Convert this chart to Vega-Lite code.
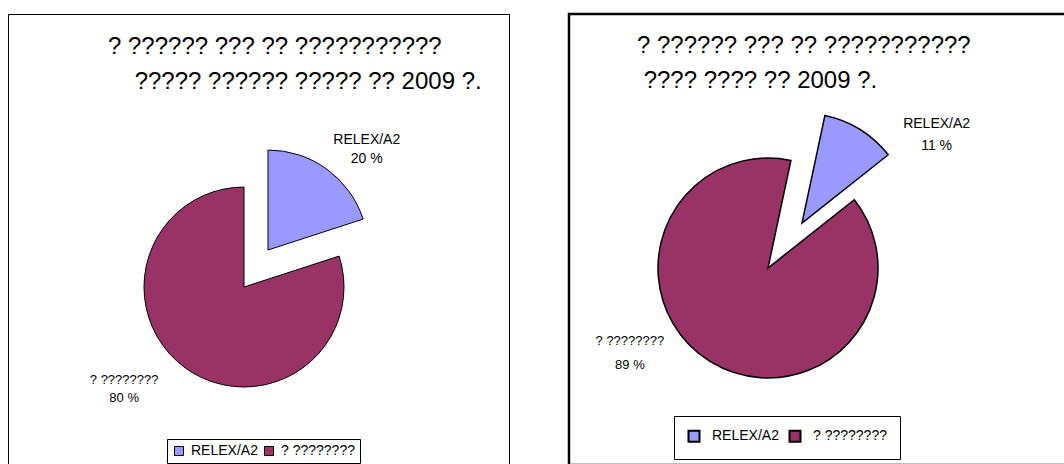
{
  "$schema": "https://vega.github.io/schema/vega-lite/v6.json",
  "padding": {"left": 7, "top": 12, "right": 0, "bottom": 0},
  "spacing": 57,
  "background": "white",
  "config": {
    "font": "Liberation Sans",
    "view": {"stroke": "black"},
    "text": {"font": "Liberation Sans", "color": "black"}
  },
  "resolve": {"scale": {"color": "independent", "theta": "independent"}, "legend": {"color": "independent"}},
  "hconcat": [
    {
      "width": 501,
      "height": 460,
      "view": {"stroke": "black", "strokeWidth": 1, "fill": "white"},
      "title": {
        "text": ["? ?????? ??? ?? ???????????", "\u200b\u00a0\u00a0\u00a0\u00a0????? ?????? ????? ?? 2009 ?."],
        "anchor": "start",
        "dx": 100,
        "offset": -80,
        "fontSize": 24,
        "fontWeight": "normal",
        "lineHeight": 35,
        "font": "Liberation Sans",
        "color": "black"
      },
      "data": {"values": [
        {"category": "RELEX/A2", "share": 20, "rank": 1, "label": "RELEX/A2\n20 %"},
        {"category": "? ????????", "share": 80, "rank": 2, "label": "? ????????\n80 %"}
      ]},
      "encoding": {
        "theta": {"field": "share", "type": "quantitative", "stack": true, "scale": {"range": [0, 6.2832]}},
        "order": {"field": "rank", "type": "quantitative"}
      },
      "layer": [
        {
          "mark": {"type": "arc", "radius": 100, "stroke": "black", "strokeWidth": 1, "xOffset": -14.5, "yOffset": 43},
          "encoding": {
            "color": {"field": "category", "type": "nominal",
              "scale": {"domain": ["RELEX/A2", "? ????????"], "range": ["#9999FF", "#993366"]},
              "legend": {"orient": "none", "legendX": 159, "legendY": 425, "direction": "horizontal", "title": null,
                "symbolType": "square", "symbolSize": 81, "symbolStrokeColor": "black", "symbolStrokeWidth": 1, "symbolOpacity": 1,
                "labelFontSize": 14, "labelFont": "Liberation Sans", "labelColor": "black", "labelOffset": 5,
                "strokeColor": "black", "padding": 5, "columnPadding": 4, "fillColor": "white"}},
            "opacity": {"condition": {"test": "datum.category !== 'RELEX/A2'", "value": 1}, "value": 0}
          }
        },
        {
          "mark": {"type": "arc", "radius": 100, "stroke": "black", "strokeWidth": 1, "xOffset": 9.5, "yOffset": 6},
          "encoding": {
            "color": {"field": "category", "type": "nominal"},
            "opacity": {"condition": {"test": "datum.category === 'RELEX/A2'", "value": 1}, "value": 0}
          }
        },
        {
          "mark": {"type": "text", "radius": 140, "xOffset": 26, "yOffset": 9, "fontSize": 14, "lineBreak": "\n", "lineHeight": 19, "align": "center", "baseline": "middle"},
          "encoding": {
            "text": {"field": "label"},
            "opacity": {"condition": {"test": "datum.category === 'RELEX/A2'", "value": 1}, "value": 0}
          }
        },
        {
          "mark": {"type": "text", "radius": 158, "xOffset": -41.5, "yOffset": 8, "fontSize": 13, "lineBreak": "\n", "lineHeight": 18, "align": "center", "baseline": "middle"},
          "encoding": {
            "text": {"field": "label"},
            "opacity": {"condition": {"test": "datum.category !== 'RELEX/A2'", "value": 1}, "value": 0}
          }
        }
      ]
    },
    {
      "width": 500,
      "height": 451,
      "view": {"stroke": "black", "strokeWidth": 2.5, "fill": "white"},
      "title": {
        "text": ["? ?????? ??? ?? ???????????", "\u200b\u00a0???? ???? ?? 2009 ?."],
        "anchor": "start",
        "dx": 68,
        "offset": -79,
        "fontSize": 24,
        "fontWeight": "normal",
        "lineHeight": 35,
        "font": "Liberation Sans",
        "color": "black"
      },
      "data": {"values": [
        {"category": "RELEX/A2", "share": 11, "rank": 1, "label": "RELEX/A2\n11 %"},
        {"category": "? ????????", "share": 89, "rank": 2, "label": "? ????????\n89 %"}
      ]},
      "encoding": {
        "theta": {"field": "share", "type": "quantitative", "stack": true, "scale": {"range": [0.21, 6.4932]}},
        "order": {"field": "rank", "type": "quantitative"}
      },
      "layer": [
        {
          "mark": {"type": "arc", "radius": 110, "stroke": "black", "strokeWidth": 1.5, "xOffset": -51, "yOffset": 28.5},
          "encoding": {
            "color": {"field": "category", "type": "nominal",
              "scale": {"domain": ["RELEX/A2", "? ????????"], "range": ["#9999FF", "#993366"]},
              "legend": {"orient": "none", "legendX": 105, "legendY": 402, "direction": "horizontal", "title": null,
                "symbolType": "square", "symbolSize": 121, "symbolStrokeColor": "black", "symbolStrokeWidth": 2, "symbolOpacity": 1,
                "labelFontSize": 14, "labelFont": "Liberation Sans", "labelColor": "black", "labelOffset": 11,
                "strokeColor": "black", "padding": 13, "columnPadding": 6, "fillColor": "white"}},
            "opacity": {"condition": {"test": "datum.category !== 'RELEX/A2'", "value": 1}, "value": 0}
          }
        },
        {
          "mark": {"type": "arc", "radius": 110, "stroke": "black", "strokeWidth": 1.5, "xOffset": -17, "yOffset": -16.5},
          "encoding": {
            "color": {"field": "category", "type": "nominal"},
            "opacity": {"condition": {"test": "datum.category === 'RELEX/A2'", "value": 1}, "value": 0}
          }
        },
        {
          "mark": {"type": "text", "radius": 150, "xOffset": 38.5, "yOffset": 12, "fontSize": 14, "lineBreak": "\n", "lineHeight": 22, "align": "center", "baseline": "middle"},
          "encoding": {
            "text": {"field": "label"},
            "opacity": {"condition": {"test": "datum.category === 'RELEX/A2'", "value": 1}, "value": 0}
          }
        },
        {
          "mark": {"type": "text", "radius": 150, "xOffset": -110, "yOffset": -26, "fontSize": 13, "lineBreak": "\n", "lineHeight": 24, "align": "center", "baseline": "middle"},
          "encoding": {
            "text": {"field": "label"},
            "opacity": {"condition": {"test": "datum.category !== 'RELEX/A2'", "value": 1}, "value": 0}
          }
        }
      ]
    }
  ]
}
